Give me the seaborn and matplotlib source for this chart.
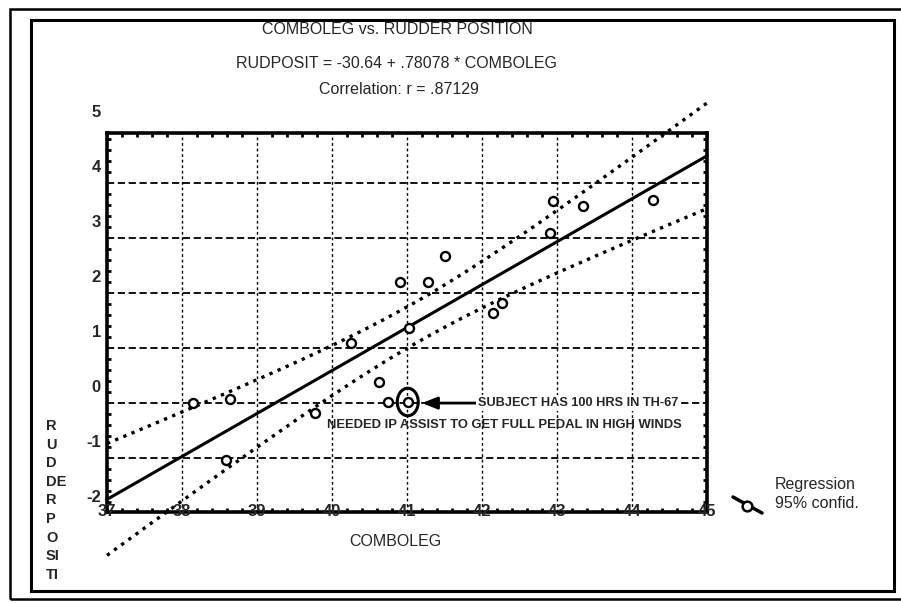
import numpy as np
import matplotlib
matplotlib.use("Agg")
import matplotlib.pyplot as plt
import matplotlib.transforms as mtrans
from matplotlib.patches import Ellipse, Rectangle
from matplotlib.lines import Line2D
from matplotlib.ticker import MultipleLocator
import seaborn as sns

sns.set_style("white")
plt.rcParams["font.family"] = ["Liberation Sans", "DejaVu Sans"]

# values
comboleg = [38.14, 38.64, 38.58, 39.77, 40.25, 40.63, 40.75, 41.01, 40.90, 41.28,
            41.50, 41.03, 42.15, 42.27, 42.90, 42.95, 43.35, 44.28]
rudposit = [0.00, 0.08, -1.03, -0.18, 1.10, 0.38, 0.02, 0.02, 2.20, 2.20,
            2.68, 1.37, 1.63, 1.82, 3.10, 3.67, 3.58, 3.70]
flagged = (41.01, 0.02)

x_ticks = [37, 38, 39, 40, 41, 42, 43, 44, 45]
x_grid = [38, 39, 40, 41, 42, 43, 44]
y_ticks = [-2, -1, 0, 1, 2, 3, 4, 5]
y_grid = [-1, 0, 1, 2, 3, 4]
ylabel_parts = ["R", "U", "D", "DE", "R", "P", "O", "SI", "TI"]

intercept = -30.64
slope = 0.78078
t_crit = 2.12

# regression line and 95% confidence lines
x = np.array(comboleg)
y = np.array(rudposit)
n = len(x)
xbar = x.mean()
sxx = ((x - xbar) ** 2).sum()
resid = y - (intercept + slope * x)
s = np.sqrt((resid ** 2).sum() / (n - 2))
xs = np.linspace(x_ticks[0], x_ticks[-1], 120)
fit = intercept + slope * xs
half = t_crit * s * np.sqrt(1 / n + (xs - xbar) ** 2 / sxx)

fig = plt.figure(figsize=(9.01, 6.03), dpi=100)
ax = fig.add_axes([107 / 901, 1 - 512 / 603, 600 / 901, 379 / 603])
ax.set_xlim(37, 45)
ax.set_ylim(-1.98, 4.91)

ax.set_xticks(x_grid)
ax.set_yticks(y_grid)
ax.xaxis.set_minor_locator(MultipleLocator(0.2))
ax.yaxis.set_minor_locator(MultipleLocator(0.2))
ax.tick_params(which="major", length=0, labelbottom=False, labelleft=False)
ax.tick_params(which="minor", direction="in", length=3, width=2, color="black",
               top=True, right=True, bottom=True, left=True)
ax.grid(False)
for gx in x_grid:
    ax.axvline(gx, color="black", lw=1.0, ls=(0, (2, 2)), zorder=1)
for gy in y_grid:
    ax.axhline(gy, color="black", lw=1.3, ls=(0, (4, 2)), zorder=1)
for sp in ax.spines.values():
    sp.set_linewidth(2.6)
    sp.set_color("black")

sns.lineplot(x=xs, y=fit, ax=ax, color="black", lw=2.2, clip_on=False, zorder=3)
sns.lineplot(x=xs, y=fit + half, ax=ax, color="black", lw=2.4, linestyle=":",
             clip_on=False, zorder=3)
sns.lineplot(x=xs, y=fit - half, ax=ax, color="black", lw=2.4, linestyle=":",
             clip_on=False, zorder=3)
sns.scatterplot(x=comboleg, y=rudposit, ax=ax, marker="o", s=42, color="white",
                edgecolor="black", linewidth=1.7, zorder=5)
ax.add_patch(Ellipse(flagged, width=0.28, height=0.5, fill=False,
                     ec="black", lw=2.2, zorder=6))

ax.annotate("SUBJECT HAS 100 HRS IN TH-67", xy=(41.2, 0.0), xytext=(41.95, 0.0),
            ha="left", va="center", fontsize=9.2, fontweight="bold", zorder=7,
            bbox=dict(boxstyle="square,pad=0.15", fc="white", ec="none"),
            arrowprops=dict(arrowstyle="-|>,head_length=1.0,head_width=0.4",
                            color="black", lw=2, shrinkA=0, shrinkB=0))
ax.text(39.93, -0.4, "NEEDED IP ASSIST TO GET FULL PEDAL IN HIGH WINDS",
        ha="left", va="center", fontsize=9.4, fontweight="bold", zorder=7)

# tick labels (offset as on the scan)
xt = ax.get_xaxis_transform()
for v in x_ticks:
    ax.text(v, 0, str(v), transform=xt, ha="center", va="center",
            fontsize=12, fontweight="bold", clip_on=False)
yt = mtrans.blended_transform_factory(ax.transAxes, ax.transData) + \
    mtrans.ScaledTranslation(-0.06, 0.16, fig.dpi_scale_trans)
for v in y_ticks:
    ax.text(0, v, str(v), transform=yt, ha="right", va="center",
            fontsize=12, fontweight="bold", clip_on=False)

ax.set_xlabel("")
ax.set_ylabel("")
fig.text(395 / 901, 1 - 542 / 603, "COMBOLEG", ha="center", va="center", fontsize=11.5)
for i, part in enumerate(ylabel_parts):
    fig.text(46 / 901, 1 - (426 + 18.6 * i) / 603, part, ha="left", va="center",
             fontsize=10.5, fontweight="bold")

fig.text(397 / 901, 1 - 29 / 603, "COMBOLEG vs. RUDDER POSITION",
         ha="center", va="center", fontsize=11.5)
fig.text(397 / 901, 1 - 63 / 603, "RUDPOSIT = -30.64 + .78078 * COMBOLEG",
         ha="center", va="center", fontsize=11.5)
fig.text(399 / 901, 1 - 89 / 603, "Correlation: r = .87129",
         ha="center", va="center", fontsize=11.5)

# legend key
fig.add_artist(Line2D([733 / 901, 762 / 901], [1 - 497 / 603, 1 - 513 / 603],
                      color="black", lw=2.5))
fig.add_artist(Line2D([747 / 901], [1 - 506 / 603], marker="o", ms=7,
                      mfc="white", mec="black", mew=1.8, lw=0))
fig.text(775 / 901, 1 - 484 / 603, "Regression", ha="left", va="center", fontsize=11.5)
fig.text(775 / 901, 1 - 503 / 603, "95% confid.", ha="left", va="center", fontsize=11.5)

# page frames
fig.add_artist(Rectangle((31 / 901, 1 - 591 / 603), 863 / 901, 571 / 603,
                         transform=fig.transFigure, fill=False, ec="black", lw=2.2))
fig.add_artist(Rectangle((10 / 901, 1 - 599 / 603), 900 / 901, 590 / 603,
                         transform=fig.transFigure, fill=False, ec="black", lw=1.8))

fig.savefig("out.png", dpi=100)
